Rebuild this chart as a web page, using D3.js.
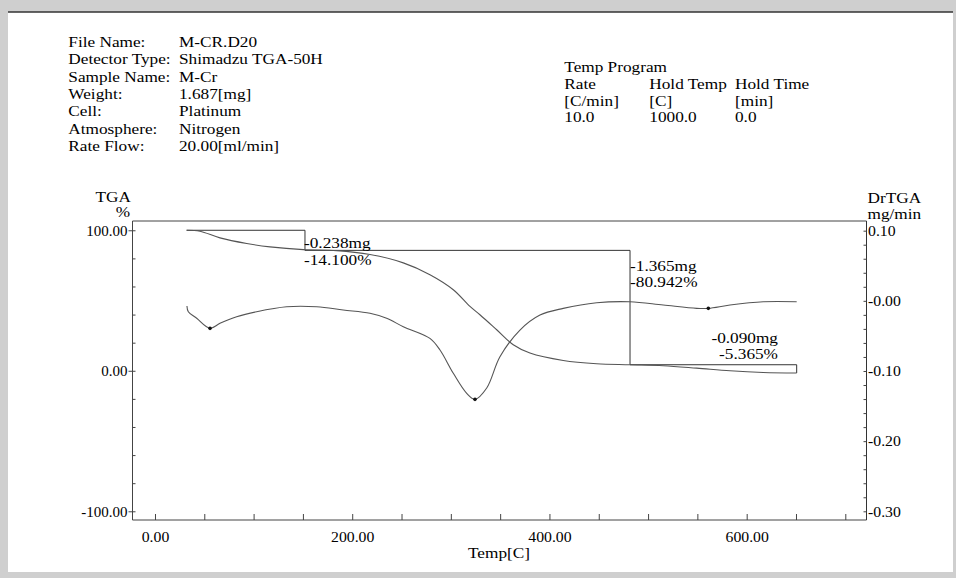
<!DOCTYPE html>
<html><head><meta charset="utf-8">
<script src="https://cdn.jsdelivr.net/npm/d3@7/dist/d3.min.js"></script>
<style>
html,body{margin:0;padding:0;background:#fff;}
svg text{font-family:"Liberation Serif","Times New Roman",serif;font-size:15px;fill:#000;}
</style></head>
<body>
<svg id="c" width="956" height="578"></svg>
<script>
// ---------- data ----------
const headerKeys = ["File Name:","Detector Type:","Sample Name:","Weight:","Cell:","Atmosphere:","Rate Flow:"];
const headerVals = ["M-CR.D20","Shimadzu TGA-50H","M-Cr","1.687[mg]","Platinum","Nitrogen","20.00[ml/min]"];
const programTitle = "Temp Program";
const programRows = [["Rate","Hold Temp","Hold Time"],["[C/min]","[C]","[min]"],["10.0","1000.0","0.0"]];

// TGA curve: temperature [C] vs weight [%]
const tgaTemp = [32.1,45.6,65.9,93.0,116.6,150.4,184.2,218.0,251.8,278.8,302.5,319.4,329.5,346.5,363.3,380.2,414.0,447.9,481.6,515.4,549.3,583.1,616.8,650.7];
const tgaPct  = [100.0,99.3,94.6,90.6,88.2,86.2,85.5,82.7,76.8,68.4,57.7,45.8,39.9,29.2,18.5,12.6,7.3,5.0,4.3,3.6,1.9,0.0,-1.2,-1.6];

// DrTGA curve: temperature [C] vs mg/min
const drTemp = [32.4,33.8,42.3,55.8,65.9,82.8,103.1,133.5,164.0,190.9,218.0,234.9,251.8,278.8,289.0,302.5,316.1,324.5,336.4,349.8,370.1,390.4,414.0,447.9,481.6,515.4,549.3,561.1,583.1,616.8,650.7];
const drVal  = [-0.0074,-0.0155,-0.0249,-0.0392,-0.0321,-0.0227,-0.0155,-0.0084,-0.0084,-0.0131,-0.0178,-0.0249,-0.0369,-0.0535,-0.0701,-0.1033,-0.1319,-0.1404,-0.1243,-0.0797,-0.0416,-0.0202,-0.0107,-0.0027,-0.0013,-0.0060,-0.0107,-0.0107,-0.0060,-0.0013,-0.0013];
const peakTemps = [55.8,324.5,561.1];
const peakVals  = [-0.0392,-0.1404,-0.0107];

// weight-loss steps
const stepTemp  = [32.1,152.1,481.7,650.7];
const stepLevel = [100,85.7,4.3,-1.6];
const stepMass  = ["-0.238mg","-1.365mg","-0.090mg"];
const stepPct   = ["-14.100%","-80.942%","-5.365%"];

// axes
const xTickValues = [0,200,400,600];
const xTickLabels = ["0.00","200.00","400.00","600.00"];
const leftTickValues = [100,0,-100];
const leftTickLabels = ["100.00","0.00","-100.00"];
const rightTickValues = [0.1,0,-0.1,-0.2,-0.3];
const rightTickLabels = ["0.10","-0.00","-0.10","-0.20","-0.30"];
const xTitle = "Temp[C]";
const leftTitle = ["TGA","%"];
const rightTitle = ["DrTGA","mg/min"];

// ---------- drawing ----------
const svg = d3.select("#c");
const SX = 1.15; // scanned text is slightly wide

// page frame (scan border)
svg.append("rect").attr("x",0).attr("y",0).attr("width",956).attr("height",578).attr("fill","#cfcfcf");
svg.append("rect").attr("x",8).attr("y",12).attr("width",945).attr("height",560).attr("fill","#fff");
svg.append("line").attr("x1",8).attr("x2",953).attr("y1",12).attr("y2",12).attr("stroke","#333").attr("stroke-width",1.4);

function txt(x,y,s,anchor,sx){
  svg.append("text").attr("transform",`translate(${x},${y}) scale(${sx||SX},1)`)
     .attr("text-anchor",anchor||"start").text(s);
}

headerKeys.forEach((k,i)=>{ txt(68.3,46.7+17.4*i,k); txt(179,46.7+17.4*i,headerVals[i]); });
txt(564.3,71.7,programTitle);
const colX=[564.3,649.3,735];
programRows.forEach((r,i)=>r.forEach((c,j)=>txt(colX[j],88.6+16.9*(i),c)));

const L=132.5,R=866.5,Tp=221,B=520;
const x  = d3.scaleLinear().domain([-22.8,721.5]).range([L,R]);
const yL = d3.scaleLinear().domain([-106.2,106.6]).range([B,Tp]);
const yR = d3.scaleLinear().domain([-0.3124,0.1138]).range([B,Tp]);

// frame lines
svg.append("line").attr("x1",L).attr("x2",R).attr("y1",Tp).attr("y2",Tp).attr("stroke","#444");

// bottom axis
const gx = svg.append("g").attr("transform",`translate(0,${B})`)
  .call(d3.axisBottom(x).tickValues(d3.range(0,701,50)).tickSize(-6).tickFormat(""));
gx.select(".domain").attr("d",`M${L},0H${R}`).attr("stroke","#444");
gx.selectAll(".tick line").attr("stroke","#444");
const gx2 = svg.append("g").attr("transform",`translate(0,${B})`)
  .call(d3.axisBottom(x).tickValues(xTickValues).tickSize(0).tickPadding(11).tickFormat((d,i)=>xTickLabels[i]));
gx2.select(".domain").remove();
gx2.selectAll("text").attr("transform",`scale(1.05,1)`).attr("fill","#000")
   .attr("font-family",null).attr("font-size",null);

// left axis
const gl = svg.append("g").attr("transform",`translate(${L},0)`)
  .call(d3.axisLeft(yL).tickValues(d3.range(-100,101,20)).tickSize(-3).tickFormat(""));
gl.select(".domain").attr("d",`M0,${Tp}V${B}`).attr("stroke","#444");
gl.selectAll(".tick line").attr("stroke","#444");
const gl2 = svg.append("g").attr("transform",`translate(${L},0)`)
  .call(d3.axisLeft(yL).tickValues(leftTickValues).tickSize(4).tickPadding(1).tickFormat((d,i)=>leftTickLabels[i]));
gl2.select(".domain").remove();
gl2.selectAll(".tick line").attr("stroke","#444");
gl2.selectAll("text").attr("font-family",null).attr("font-size",null).attr("fill","#000");

// right axis
const gr = svg.append("g").attr("transform",`translate(${R},0)`)
  .call(d3.axisRight(yR).tickValues(d3.range(-15,6,1).map(k=>k*0.02)).tickSize(-3).tickFormat(""));
gr.select(".domain").attr("d",`M0,${Tp}V${B}`).attr("stroke","#333");
gr.selectAll(".tick line").attr("stroke","#444");
const gr2 = svg.append("g").attr("transform",`translate(${R},0)`)
  .call(d3.axisRight(yR).tickValues(rightTickValues).tickSize(0).tickPadding(1.5).tickFormat((d,i)=>rightTickLabels[i]));
gr2.select(".domain").remove();
gr2.selectAll("text").attr("font-family",null).attr("font-size",null).attr("fill","#000")
   .attr("transform","scale(1.05,1)");

// axis titles
txt(499,558,xTitle,"middle");
txt(131,201.5,leftTitle[0],"end");
txt(130,217.3,leftTitle[1],"end");
txt(867.5,202.5,rightTitle[0],"start");
txt(867.5,218.5,rightTitle[1],"start");

// step brackets
const stepPts = [];
for(let i=0;i<stepTemp.length-1;i++){
  stepPts.push([x(stepTemp[i]),yL(stepLevel[i])]);
  stepPts.push([x(stepTemp[i+1]),yL(stepLevel[i])]);
  stepPts.push([x(stepTemp[i+1]),yL(stepLevel[i+1])]);
}
svg.append("path").attr("d",d3.line()(stepPts)).attr("fill","none").attr("stroke","#333").attr("stroke-width",1);

// curves
const tgaLine = d3.line().x((d,i)=>x(tgaTemp[i])).y((d,i)=>yL(tgaPct[i])).curve(d3.curveCatmullRom);
svg.append("path").attr("d",tgaLine(tgaTemp)).attr("fill","none").attr("stroke","#555").attr("stroke-width",1.1);
const drLine = d3.line().x((d,i)=>x(drTemp[i])).y((d,i)=>yR(drVal[i])).curve(d3.curveCatmullRom);
svg.append("path").attr("d",drLine(drTemp)).attr("fill","none").attr("stroke","#555").attr("stroke-width",1.1);
svg.selectAll("circle.pk").data(peakTemps).enter().append("circle")
  .attr("cx",d=>x(d)).attr("cy",(d,i)=>yR(peakVals[i])).attr("r",1.8).attr("fill","#111");

// step annotations
txt(x(stepTemp[1])-1,248.3,stepMass[0]);
txt(x(stepTemp[1])-1,265,stepPct[0]);
txt(x(stepTemp[2]),271,stepMass[1]);
txt(x(stepTemp[2]),286.5,stepPct[1]);
txt(778,343.3,stepMass[2],"end");
txt(778,359.3,stepPct[2],"end");
</script>
</body></html>
